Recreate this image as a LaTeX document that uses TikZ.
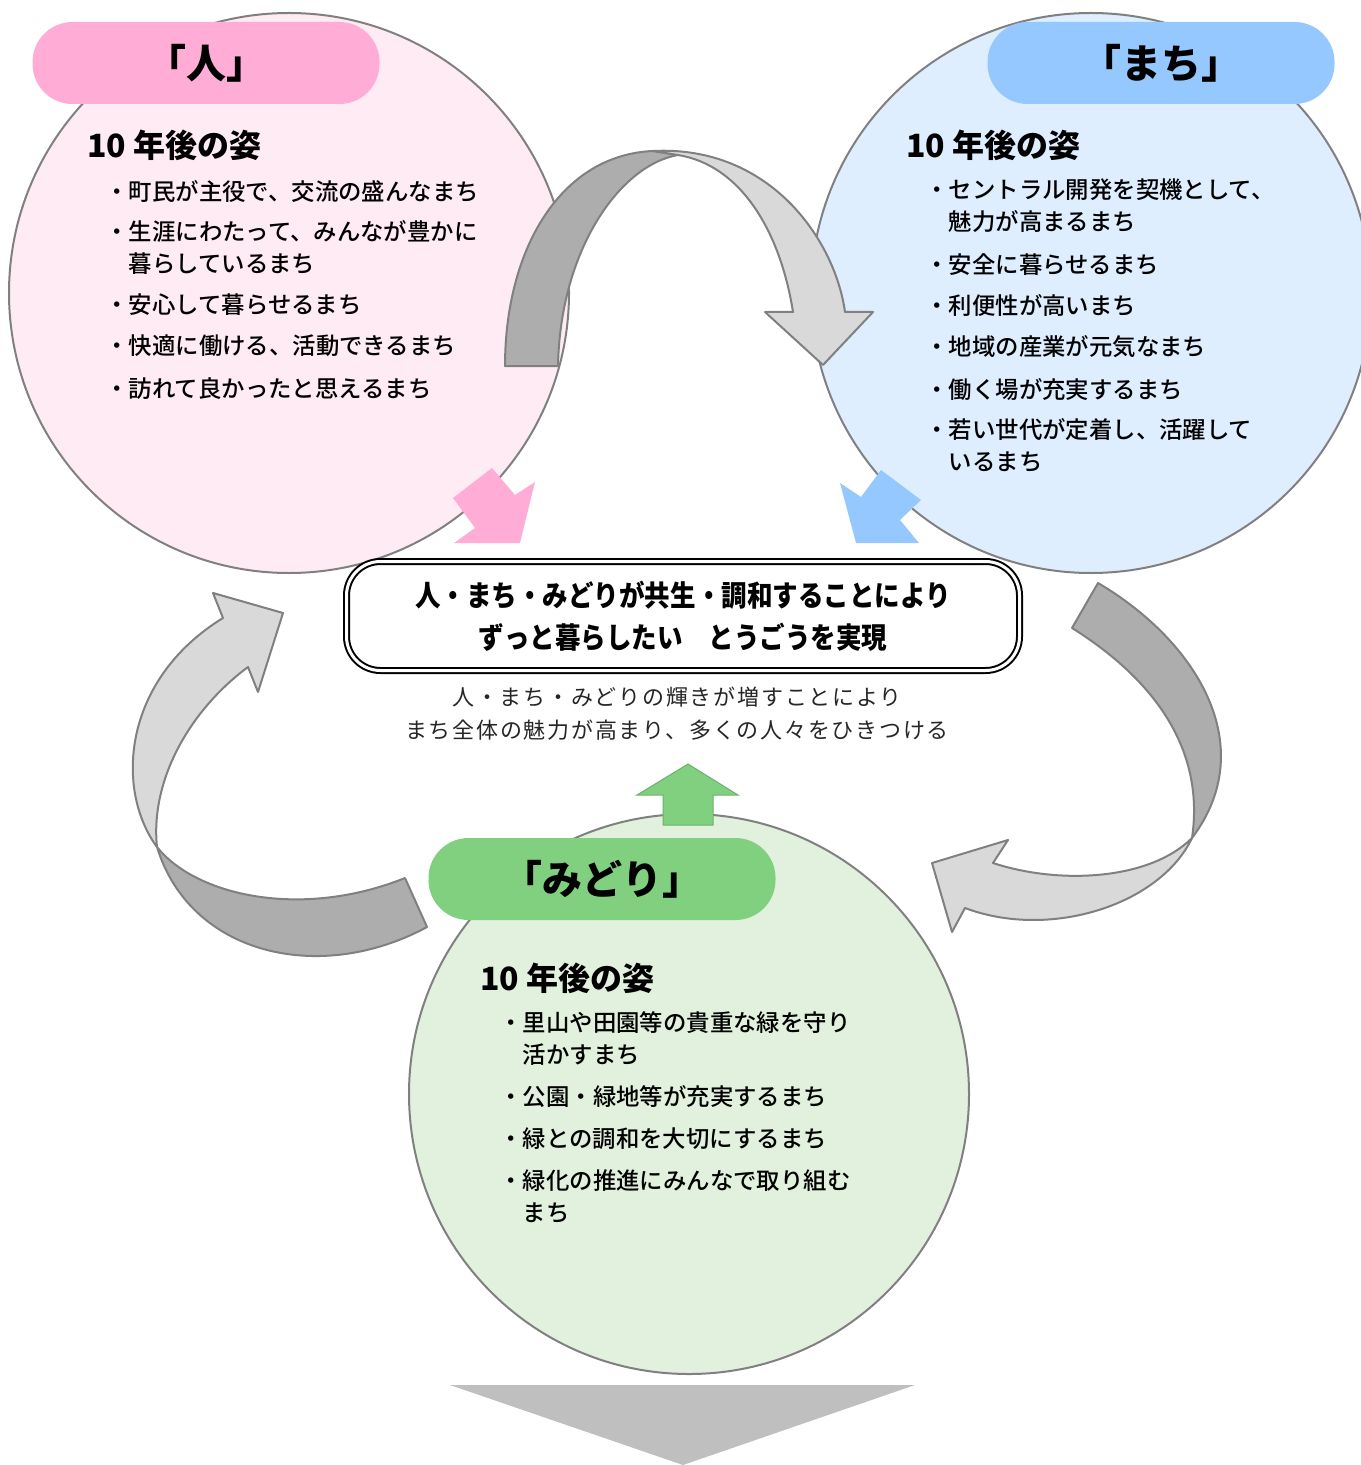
\documentclass[tikz,border=0pt]{standalone}
\usepackage{fontspec}
\setmainfont{Noto Sans CJK JP}
\newfontfamily\itemfont{Noto Sans CJK JP Medium}
\newfontfamily\boxfont[FakeStretch=0.88]{Noto Sans CJK JP}
\newfontfamily\widefont[LetterSpace=8]{Noto Sans CJK JP}
\definecolor{pinkbg}{RGB}{255,235,243}
\definecolor{bluebg}{RGB}{222,238,255}
\definecolor{greenbg}{RGB}{226,240,222}
\definecolor{pinkpill}{RGB}{255,173,214}
\definecolor{bluepill}{RGB}{148,200,255}
\definecolor{greenpill}{RGB}{128,208,128}
\definecolor{arrowdark}{RGB}{173,173,173}
\definecolor{arrowlight}{RGB}{217,217,217}
\definecolor{linegray}{RGB}{128,128,128}
\definecolor{trigray}{RGB}{191,191,191}
\tikzset{ area/.style = { circle % big circle
        , draw = linegray
        , line width = 1pt
        , minimum size = 280pt
        , inner sep = 0pt
        }
        , pill_style/.style = { rectangle % title pill
        , rounded corners = 20pt
        , minimum width = 173.5pt
        , minimum height = 41pt
        , font = \fontsize{20}{22}\selectfont\bfseries
        }
        , head_style/.style = { anchor = west % heading
        , inner sep = 0pt
        , font = \fontsize{16}{18}\selectfont\bfseries
        }
        , item_style/.style = { anchor = north west % bullet item
        , inner sep = 0pt
        , align = left
        , font = \itemfont\fontsize{11.7}{16}\selectfont
        }
        , band/.style = { draw = linegray % curved arrow
        , line width = 1pt
        , line join = round
        }
        }

\begin{document}
\begin{tikzpicture}[x=0.5pt, y=-0.5pt,
        box_style/.style={rectangle, draw, fill=white, rounded corners=17pt, double, double distance=1.5pt, line width=1pt, minimum width=336.5pt, minimum height=54.5pt, align=center, font=\boxfont\fontsize{14.5}{21}\selectfont\bfseries},
        sub_style/.style={align=center, text=black!85, font=\widefont\fontsize{11}{16.5}\selectfont}]
        \useasboundingbox (0,0) rectangle (1360,1465);

        % circles
        \node [area, fill=pinkbg] (c_hito) at (289,293) {};
        \node [area, fill=bluebg] (c_machi) at (1091,293) {};
        \node [area, fill=greenbg] (c_midori) at (689,1094) {};

        % curved arrows
        \filldraw [band, fill=arrowdark] (505,366) .. controls (505,250) and (560,155) .. (653,151) -- (678,155) .. controls (620,165) and (560,250) .. (558,366) -- cycle;
        \filldraw [band, fill=arrowlight] (653,151) .. controls (770,145) and (835,240) .. (845,312) -- (873,312) -- (823,365) -- (765,312) -- (793,312) .. controls (780,230) and (740,165) .. (678,155) -- cycle;
        \filldraw [band, fill=arrowdark] (1098,583) .. controls (1195,640) and (1262,745) .. (1192,838) .. controls (1205,750) and (1155,680) .. (1072,628) -- cycle;
        \filldraw [band, fill=arrowlight] (1192,838) .. controls (1160,905) and (1050,940) .. (965,908) -- (952,932) -- (932,863) -- (1008,840) -- (993,863) .. controls (1060,885) and (1150,880) .. (1192,838) -- cycle;
        \filldraw [band, fill=arrowdark] (157,847) .. controls (195,895) and (300,920) .. (405,878) -- (427,927) .. controls (320,985) and (190,955) .. (157,847) -- cycle;
        \filldraw [band, fill=arrowlight] (157,847) .. controls (115,790) and (122,680) .. (223,618) -- (213,593) -- (283,613) -- (258,692) -- (248,667) .. controls (190,710) and (150,780) .. (157,847) -- cycle;

        % title pills
        \node [pill_style, fill=pinkpill] (p_hito) at (206,63) {「人」};
        \node [pill_style, fill=bluepill] (p_machi) at (1161,63) {「まち」};
        \node [pill_style, fill=greenpill] (p_midori) at (602,879) {「みどり」};

        % small arrows
        \fill [pinkpill] (453,498) -- (492,468) -- (515,495) -- (535,482) -- (520,543) -- (454,543) -- (475,528) -- cycle;
        \fill [bluepill] (856,543) -- (840,483) -- (861,497) -- (881,470) -- (921,500) -- (900,520) -- (919,543) -- cycle;
        \filldraw [fill=greenpill, draw=greenpill!85!black, line width=0.5pt] (688,764) -- (738,795) -- (713,795) -- (713,825) -- (663,825) -- (663,795) -- (637,795) -- cycle;
        \fill [trigray] (450,1385) -- (915,1385) -- (683,1465) -- cycle;

        % centre
        \node [box_style] (goal) at (683,616) {人・まち・みどりが共生・調和することにより\\ずっと暮らしたい　とうごうを実現};
        \node [sub_style] (gain) at (677,714) {人・まち・みどりの輝きが増すことにより\\まち全体の魅力が高まり、多くの人々をひきつける};

        % texts
        \node [head_style] (h_hito) at (87,145) {10 年後の姿};
        \node [item_style] (i_hito1) at (105,180) {・町民が主役で、交流の盛んなまち};
        \node [item_style] (i_hito2) at (105,220) {・生涯にわたって、みんなが豊かに\\\phantom{・}暮らしているまち};
        \node [item_style] (i_hito3) at (105,293) {・安心して暮らせるまち};
        \node [item_style] (i_hito4) at (105,334) {・快適に働ける、活動できるまち};
        \node [item_style] (i_hito5) at (105,377) {・訪れて良かったと思えるまち};

        \node [head_style] (h_machi) at (906,145) {10 年後の姿};
        \node [item_style] (i_machi1) at (925,178) {・セントラル開発を契機として、\\\phantom{・}魅力が高まるまち};
        \node [item_style] (i_machi2) at (925,253) {・安全に暮らせるまち};
        \node [item_style] (i_machi3) at (925,294) {・利便性が高いまち};
        \node [item_style] (i_machi4) at (925,335) {・地域の産業が元気なまち};
        \node [item_style] (i_machi5) at (925,378) {・働く場が充実するまち};
        \node [item_style] (i_machi6) at (925,418) {・若い世代が定着し、活躍して\\\phantom{・}いるまち};

        \node [head_style] (h_midori) at (480,978) {10 年後の姿};
        \node [item_style] (i_midori1) at (499,1011) {・里山や田園等の貴重な緑を守り\\\phantom{・}活かすまち};
        \node [item_style] (i_midori2) at (499,1085) {・公園・緑地等が充実するまち};
        \node [item_style] (i_midori3) at (499,1127) {・緑との調和を大切にするまち};
        \node [item_style] (i_midori4) at (499,1169) {・緑化の推進にみんなで取り組む\\\phantom{・}まち};
\end{tikzpicture}
\end{document}
